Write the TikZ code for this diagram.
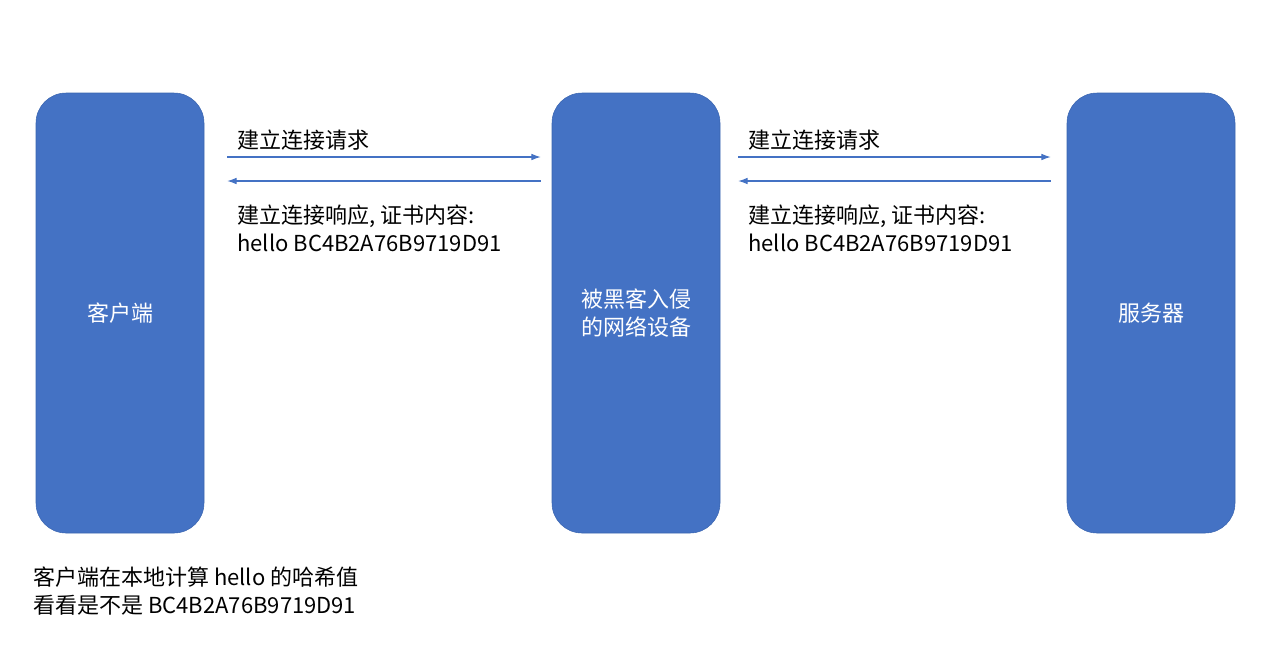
\documentclass[tikz,border=0pt]{standalone}
\usepackage{fontspec}
\setmainfont{Noto Sans CJK SC}
\usetikzlibrary{math}
\usetikzlibrary{arrows.meta}

\definecolor{boxblue}{HTML}{4472C4}
\definecolor{boxedge}{HTML}{3A65B0}

\tikzset{
    party/.style={draw=boxedge, fill=boxblue, rounded corners=22.5pt,
        minimum width=126pt, minimum height=330pt, text=white,
        align=center, font=\fontsize{16.5pt}{21pt}\selectfont},
    flow/.style={boxblue, line width=0.8pt, -{Latex[length=7pt,width=5pt]}},
    note/.style={anchor=west, align=left, inner sep=0pt,
        font=\fontsize{16.5pt}{21pt}\selectfont}
}

\begin{document}
\begin{tikzpicture}[x=0.75pt, y=-0.75pt]

% Position settings
\tikzmath{
    \XClient = 120;
    \XAttacker = 636;
    \XServer = 1151;
    \YMid = 313;
}

\useasboundingbox (0,0) rectangle (1274,669);

% Draws parties
\node [party] (client) at (\XClient,\YMid) {客户端};
\node [party] (attacker) at (\XAttacker,\YMid) {被黑客入侵\\的网络设备};
\node [party] (server) at (\XServer,\YMid) {服务器};

% Draws requests and responses
\draw [flow, shorten <=17.25pt, shorten >=8.25pt]
    ([yshift=117pt]client.east) -- ([yshift=117pt]attacker.west);
\draw [flow, shorten <=8.25pt, shorten >=17.25pt]
    ([yshift=99pt]attacker.west) -- ([yshift=99pt]client.east);
\draw [flow, shorten <=13.5pt, shorten >=12pt]
    ([yshift=117pt]attacker.east) -- ([yshift=117pt]server.west);
\draw [flow, shorten <=12pt, shorten >=13.5pt]
    ([yshift=99pt]server.west) -- ([yshift=99pt]attacker.east);

% Draws labels
\node [note] (req1) at (237,140) {建立连接请求};
\node [note] (resp1) at (237,228) {建立连接响应, 证书内容:\\hello BC4B2A76B9719D91};
\node [note] (req2) at (748,140) {建立连接请求};
\node [note] (resp2) at (748,228) {建立连接响应, 证书内容:\\hello BC4B2A76B9719D91};
\node [note] (check) at (33,591) {客户端在本地计算 hello 的哈希值\\看看是不是 BC4B2A76B9719D91};

\end{tikzpicture}
\end{document}
